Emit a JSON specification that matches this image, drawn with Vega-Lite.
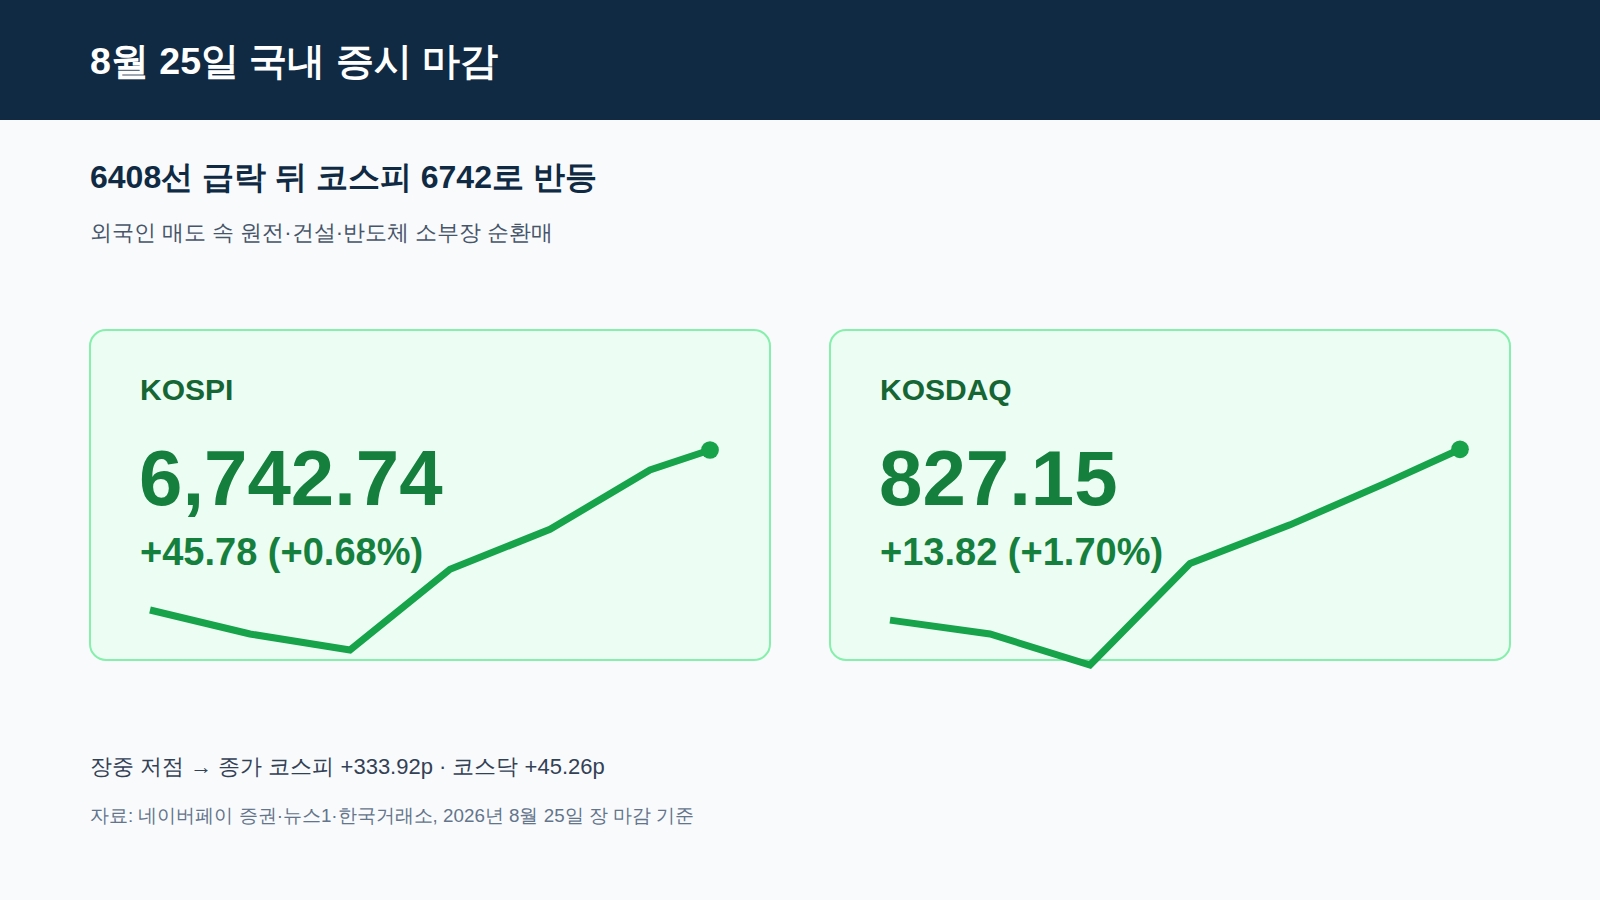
{
  "$schema": "https://vega.github.io/schema/vega-lite/v6.json",
  "width": 1600,
  "height": 900,
  "autosize": {"type": "fit", "contains": "padding"},
  "padding": 0,
  "background": "#f8fafc",
  "config": {
    "view": {"stroke": null},
    "font": "Helvetica, Arial, sans-serif",
    "text": {"font": "Helvetica, Arial, sans-serif"}
  },
  "datasets": {
    "series": [
      {"index": "KOSPI", "minute": 0, "value": 6475.6},
      {"index": "KOSPI", "minute": 60, "value": 6435.5},
      {"index": "KOSPI", "minute": 120, "value": 6408.82},
      {"index": "KOSPI", "minute": 180, "value": 6543.5},
      {"index": "KOSPI", "minute": 240, "value": 6610.3},
      {"index": "KOSPI", "minute": 300, "value": 6709.3},
      {"index": "KOSPI", "minute": 336, "value": 6742.74},
      {"index": "KOSDAQ", "minute": 0, "value": 791.3},
      {"index": "KOSDAQ", "minute": 60, "value": 788.4},
      {"index": "KOSDAQ", "minute": 120, "value": 781.89},
      {"index": "KOSDAQ", "minute": 180, "value": 803.2},
      {"index": "KOSDAQ", "minute": 240, "value": 811.3},
      {"index": "KOSDAQ", "minute": 297, "value": 820.0},
      {"index": "KOSDAQ", "minute": 342, "value": 827.15}
    ],
    "cards": [
      {"index": "KOSPI", "close": "6,742.74", "change": "+45.78 (+0.68%)"},
      {"index": "KOSDAQ", "close": "827.15", "change": "+13.82 (+1.70%)"}
    ],
    "notes": [
      {"role": "title", "text": "8월 25일 국내 증시 마감"},
      {"role": "headline", "text": "6408선 급락 뒤 코스피 6742로 반등"},
      {"role": "sub", "text": "외국인 매도 속 원전·건설·반도체 소부장 순환매"},
      {"role": "summary", "text": "장중 저점 → 종가 코스피 +333.92p · 코스닥 +45.26p"},
      {"role": "source", "text": "자료: 네이버페이 증권·뉴스1·한국거래소, 2026년 8월 25일 장 마감 기준"}
    ]
  },
  "resolve": {"scale": {"x": "independent", "y": "independent"}},
  "layer": [
    {
      "data": {"values": [{"section": "header"}]},
      "mark": {"type": "rect", "color": "#102a43"},
      "encoding": {
        "x": {"value": 0},
        "x2": {"value": 1600},
        "y": {"value": 0},
        "y2": {"value": 120}
      }
    },
    {
      "data": {"name": "cards"},
      "mark": {"type": "rect", "fill": "#ecfdf3", "stroke": "#86efac", "strokeWidth": 2, "cornerRadius": 16},
      "encoding": {
        "x": {
          "field": "index",
          "type": "nominal",
          "scale": {"type": "band", "domain": ["KOSPI", "KOSDAQ"], "range": [90, 1510], "paddingInner": 0.0810811, "paddingOuter": 0},
          "axis": null
        },
        "y": {"value": 330},
        "y2": {"value": 660}
      }
    },
    {
      "data": {"name": "cards"},
      "mark": {"type": "text", "align": "left", "baseline": "alphabetic", "dx": 50, "fontSize": 30, "fontWeight": "bold", "color": "#166534"},
      "encoding": {
        "x": {
          "field": "index",
          "type": "nominal",
          "bandPosition": 0,
          "scale": {"type": "band", "domain": ["KOSPI", "KOSDAQ"], "range": [90, 1510], "paddingInner": 0.0810811, "paddingOuter": 0},
          "axis": null
        },
        "y": {"value": 400},
        "text": {"field": "index"}
      }
    },
    {
      "data": {"name": "cards"},
      "mark": {"type": "text", "align": "left", "baseline": "alphabetic", "dx": 49, "fontSize": 78, "fontWeight": "bold", "color": "#15803d"},
      "encoding": {
        "x": {
          "field": "index",
          "type": "nominal",
          "bandPosition": 0,
          "scale": {"type": "band", "domain": ["KOSPI", "KOSDAQ"], "range": [90, 1510], "paddingInner": 0.0810811, "paddingOuter": 0},
          "axis": null
        },
        "y": {"value": 505},
        "text": {"field": "close"}
      }
    },
    {
      "data": {"name": "cards"},
      "mark": {"type": "text", "align": "left", "baseline": "alphabetic", "dx": 50, "fontSize": 38, "fontWeight": "bold", "color": "#15803d"},
      "encoding": {
        "x": {
          "field": "index",
          "type": "nominal",
          "bandPosition": 0,
          "scale": {"type": "band", "domain": ["KOSPI", "KOSDAQ"], "range": [90, 1510], "paddingInner": 0.0810811, "paddingOuter": 0},
          "axis": null
        },
        "y": {"value": 565},
        "text": {"field": "change"}
      }
    },
    {
      "data": {"name": "series"},
      "transform": [{"filter": "datum.index === 'KOSPI'"}],
      "encoding": {
        "x": {"field": "minute", "type": "quantitative", "scale": {"domain": [0, 360], "range": [150, 750], "nice": false, "zero": false}, "axis": null},
        "y": {"field": "value", "type": "quantitative", "scale": {"domain": [6408.82, 6742.74], "range": [650, 450], "nice": false, "zero": false}, "axis": null}
      },
      "layer": [
        {"mark": {"type": "line", "color": "#16a34a", "strokeWidth": 7}},
        {
          "transform": [
            {"joinaggregate": [{"op": "max", "field": "minute", "as": "last"}]},
            {"filter": "datum.minute === datum.last"}
          ],
          "mark": {"type": "circle", "color": "#16a34a", "size": 314, "opacity": 1}
        }
      ]
    },
    {
      "data": {"name": "series"},
      "transform": [{"filter": "datum.index === 'KOSDAQ'"}],
      "encoding": {
        "x": {"field": "minute", "type": "quantitative", "scale": {"domain": [0, 360], "range": [890, 1490], "nice": false, "zero": false}, "axis": null},
        "y": {"field": "value", "type": "quantitative", "scale": {"domain": [781.89, 827.15], "range": [665, 449.3], "nice": false, "zero": false}, "axis": null}
      },
      "layer": [
        {"mark": {"type": "line", "color": "#16a34a", "strokeWidth": 7}},
        {
          "transform": [
            {"joinaggregate": [{"op": "max", "field": "minute", "as": "last"}]},
            {"filter": "datum.minute === datum.last"}
          ],
          "mark": {"type": "circle", "color": "#16a34a", "size": 314, "opacity": 1}
        }
      ]
    },
    {
      "data": {"name": "notes"},
      "transform": [{"filter": "datum.role === 'title'"}],
      "mark": {"type": "text", "align": "left", "baseline": "alphabetic", "fontSize": 37.5, "fontWeight": "bold", "color": "#ffffff"},
      "encoding": {"x": {"value": 90}, "y": {"value": 74}, "text": {"field": "text"}}
    },
    {
      "data": {"name": "notes"},
      "transform": [{"filter": "datum.role === 'headline'"}],
      "mark": {"type": "text", "align": "left", "baseline": "alphabetic", "fontSize": 32, "fontWeight": "bold", "color": "#102a43"},
      "encoding": {"x": {"value": 90}, "y": {"value": 188}, "text": {"field": "text"}}
    },
    {
      "data": {"name": "notes"},
      "transform": [{"filter": "datum.role === 'sub'"}],
      "mark": {"type": "text", "align": "left", "baseline": "alphabetic", "fontSize": 22, "color": "#475569"},
      "encoding": {"x": {"value": 90}, "y": {"value": 240}, "text": {"field": "text"}}
    },
    {
      "data": {"name": "notes"},
      "transform": [{"filter": "datum.role === 'summary'"}],
      "mark": {"type": "text", "align": "left", "baseline": "alphabetic", "fontSize": 22, "color": "#334155"},
      "encoding": {"x": {"value": 90}, "y": {"value": 774}, "text": {"field": "text"}}
    },
    {
      "data": {"name": "notes"},
      "transform": [{"filter": "datum.role === 'source'"}],
      "mark": {"type": "text", "align": "left", "baseline": "alphabetic", "fontSize": 18.8, "color": "#64748b"},
      "encoding": {"x": {"value": 90}, "y": {"value": 822}, "text": {"field": "text"}}
    }
  ]
}
